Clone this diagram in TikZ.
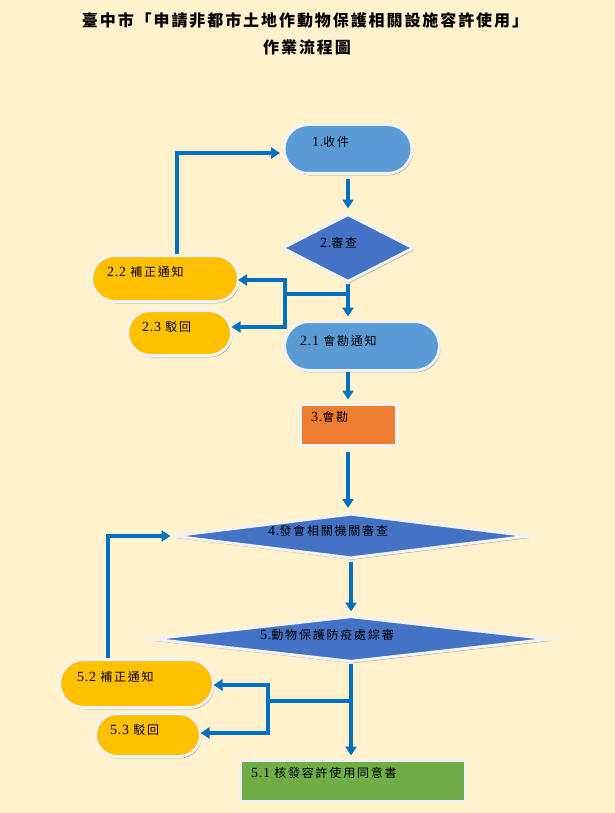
\documentclass[tikz,border=0pt]{standalone}
\usepackage{fontspec}
\setmainfont{Liberation Serif}
\newfontfamily\cjk[LetterSpace=15]{Noto Sans CJK TC}
\newfontfamily\lat[LetterSpace=5]{Liberation Serif}
\newfontfamily\ttl[LetterSpace=12]{Noto Sans CJK TC}
\usetikzlibrary{arrows.meta,shadows,shapes.geometric,shapes.misc}
\definecolor{bg}{HTML}{FFF2CC}
\definecolor{lblue}{HTML}{5B9BD5}
\definecolor{dblue}{HTML}{4472C4}
\definecolor{orng}{HTML}{ED7D31}
\definecolor{grn}{HTML}{70AD47}
\definecolor{yel}{HTML}{FFC000}
\definecolor{arrc}{HTML}{0070C0}
\definecolor{bord}{HTML}{F2F2F2}
\newcommand\lb[2]{{\lat\fontsize{14}{15}\selectfont #1}{\cjk #2}}
\tikzset{
  shp/.style={draw=bord, line width=3pt, inner sep=0pt,
    drop shadow={shadow xshift=1.2pt, shadow yshift=-1.8pt, fill=black, opacity=0.35}},
  pill/.style={shp, rounded rectangle},
  boxr/.style={shp, rectangle},
  dia/.style={shp, diamond},
  lbl/.style={anchor=west, inner sep=0pt, font=\fontsize{12}{14}\selectfont},
  ttlstyle/.style={inner sep=0pt, font=\ttl\bfseries\fontsize{16}{18}\selectfont},
  ln/.style={draw=arrc, line width=3.5pt},
  arr/.style={ln, -{Triangle[length=9pt,width=11pt]}}
}
\begin{document}
\begin{tikzpicture}[x=1pt,y=-1pt]
\fill[bg] (0,0) rectangle (615,813);
\useasboundingbox (0,0) rectangle (615,813);
% title
\node[ttlstyle] (title1) at (305,20) {臺中市「申請非都市土地作動物保護相關設施容許使用」};
\node[ttlstyle] (title2) at (307,47) {作業流程圖};
% shapes
\node[pill, fill=lblue, minimum width=128pt, minimum height=49pt] (n1) at (348,149) {};
\node[dia, fill=dblue, minimum width=132pt, minimum height=68pt] (d2) at (348,248) {};
\node[pill, fill=yel, minimum width=147pt, minimum height=46pt] (n22) at (165,278.5) {};
\node[pill, fill=yel, minimum width=104pt, minimum height=45pt] (n23) at (179.5,333) {};
\node[pill, fill=lblue, minimum width=155pt, minimum height=49pt] (n21) at (362,346) {};
\node[boxr, fill=orng, minimum width=96pt, minimum height=41pt] (n3) at (348,424.5) {};
\node[dia, fill=dblue, minimum width=358pt, minimum height=45pt] (d4) at (351,536) {};
\node[dia, fill=dblue, minimum width=400pt, minimum height=46pt] (d5) at (351,639) {};
\node[pill, fill=yel, minimum width=154pt, minimum height=48pt] (n52) at (136.5,683.5) {};
\node[pill, fill=yel, minimum width=105pt, minimum height=43pt] (n53) at (148,735) {};
\node[boxr, fill=grn, minimum width=225pt, minimum height=41pt] (n51) at (352.5,780.5) {};
% labels
\node[lbl] (t1) at (312,142) {\lb{1.}{收件}};
\node[lbl] (t2) at (320,243) {\lb{2.}{審查}};
\node[lbl] (t22) at (107,272) {\lb{2.2 }{補正通知}};
\node[lbl] (t23) at (142,327) {\lb{2.3 }{駁回}};
\node[lbl] (t21) at (300,341) {\lb{2.1 }{會勘通知}};
\node[lbl] (t3) at (311,417) {\lb{3.}{會勘}};
\node[lbl] (t4) at (268,531) {\lb{4.}{發會相關機關審查}};
\node[lbl] (t5) at (260,635) {\lb{5.}{動物保護防疫處綜審}};
\node[lbl] (t52) at (77,677) {\lb{5.2 }{補正通知}};
\node[lbl] (t53) at (110,730) {\lb{5.3 }{駁回}};
\node[lbl] (t51) at (251,773) {\lb{5.1 }{核發容許使用同意書}};
% connectors, upper part
\draw[arr, shorten <=4pt, shorten >=4pt] (n1.south) -- (d2.north);
\draw[arr, shorten >=3.5pt] (d2.south) -- (d2.south |- n21.north);
\coordinate (b2) at (348,294);
\coordinate (b2l) at (285,294);
\draw[ln] (b2) -- (b2l);
\draw[arr, shorten >=-2pt] (b2l) |- ([yshift=-1.5pt]n22.east);
\draw[arr, shorten >=-1.5pt] (b2l) |- ([yshift=6pt]n23.east);
\draw[arr, shorten >=2.5pt] ([xshift=12pt]n22.north) |- ([yshift=-4pt]n1.west);
\draw[arr, shorten >=3pt] (n3.north |- n21.south) -- (n3.north);
\draw[arr, shorten <=5pt, shorten >=4pt] (n3.south) -- (n3.south |- d4.north);
% connectors, lower part
\draw[arr, shorten <=2pt, shorten >=3pt] (d4.south) -- (d5.north);
\draw[arr, shorten >=3pt] (d5.south) -- (d5.south |- n51.north);
\coordinate (b5) at (351,701);
\coordinate (b5l) at (268,701);
\draw[ln] (b5) -- (b5l);
\draw[arr, shorten >=-1.5pt] (b5l) |- ([yshift=-1.5pt]n52.east);
\draw[arr, shorten >=-1.5pt] (b5l) |- ([yshift=2pt]n53.east);
\draw[arr] ([xshift=-28.5pt]n52.north) |- (d4.west);
\end{tikzpicture}
\end{document}
